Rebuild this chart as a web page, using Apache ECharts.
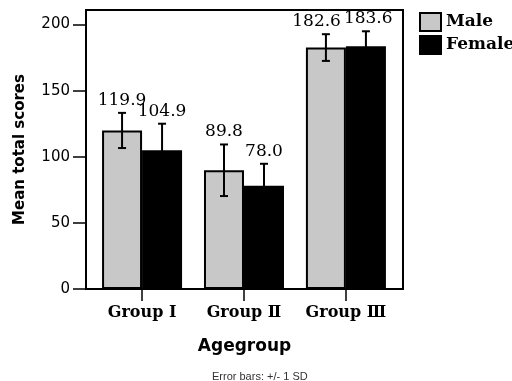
<!DOCTYPE html>
<html>
<head>
<meta charset="utf-8">
<script src="https://cdn.jsdelivr.net/npm/echarts@6/dist/echarts.min.js"></script>
<style>
  html, body { margin: 0; padding: 0; background: #fff; }
  #chart { width: 512px; height: 381px; }
</style>
</head>
<body>
<div id="chart"></div>
<script>
// Mean total scores by age group and sex, error bars = +/- 1 SD
const groups = ['Group Ⅰ', 'Group Ⅱ', 'Group Ⅲ'];
const seriesNames = ['Male', 'Female'];
const maleMean = [119.9, 89.8, 182.6];
const maleSD = [13.3, 19.5, 10.1];
const femaleMean = [104.9, 78.0, 183.6];
const femaleSD = [20.1, 16.7, 11.3];
const yTicks = [0, 50, 100, 150, 200];
const groupIndex = [0, 1, 2];

const BAR_W = 40;
const CLASH_PX = 8;
const SERIF = 'DejaVu Serif';
const SANS = 'DejaVu Sans';

const chart = echarts.init(document.getElementById('chart'), null, { renderer: 'canvas' });

function barData(means) {
  return means.map((m, i) => [groupIndex[i], m]);
}

// [group, low, high, mean, high of the neighbouring bar in the same group]
function errData(means, sds, otherMeans, otherSDs) {
  return means.map((m, i) => [groupIndex[i], m - sds[i], m + sds[i], m, otherMeans[i] + otherSDs[i]]);
}

// Whisker with caps; the mean is printed above the upper cap.
// When both labels of a group would sit on the same line they are
// pushed apart to either side of the group centre.
function errorBarSeries(name, means, sds, otherMeans, otherSDs, shift) {
  return {
    type: 'custom',
    name: name + ' SD',
    data: errData(means, sds, otherMeans, otherSDs),
    encode: { x: 0, y: [1, 2] },
    z: 5,
    silent: true,
    renderItem(params, api) {
      const i = api.value(0);
      const lo = api.coord([i, api.value(1)]);
      const hi = api.coord([i, api.value(2)]);
      const other = api.coord([i, api.value(4)]);
      const x = lo[0] + shift;
      const cap = 4;
      const st = { stroke: '#000', lineWidth: 2 };
      const clash = Math.abs(other[1] - hi[1]) < CLASH_PX;
      let tx = x, align = 'center';
      if (clash) {
        align = shift < 0 ? 'right' : 'left';
        tx = lo[0] + (shift < 0 ? -5 : -2);
      }
      return {
        type: 'group',
        children: [
          { type: 'line', shape: { x1: x, y1: lo[1], x2: x, y2: hi[1] }, style: st },
          { type: 'line', shape: { x1: x - cap, y1: lo[1], x2: x + cap, y2: lo[1] }, style: st },
          { type: 'line', shape: { x1: x - cap, y1: hi[1], x2: x + cap, y2: hi[1] }, style: st },
          {
            type: 'text',
            x: tx,
            y: hi[1] - 12.5,
            style: {
              text: api.value(3).toFixed(1),
              fill: '#000',
              font: '17px "' + SERIF + '"',
              textAlign: align,
              textVerticalAlign: 'middle'
            }
          }
        ]
      };
    }
  };
}

const option = {
  animation: false,
  backgroundColor: '#fff',
  grid: {
    left: 86, right: 109, top: 10, bottom: 92,
    show: true, borderColor: '#000', borderWidth: 2, backgroundColor: 'transparent'
  },
  legend: {
    data: seriesNames,
    orient: 'vertical',
    left: 419, top: 12, padding: 0,
    itemWidth: 21, itemHeight: 18, itemGap: 3,
    icon: 'rect',
    itemStyle: { borderColor: '#000', borderWidth: 2 },
    textStyle: { fontFamily: SERIF, fontWeight: 'bold', fontSize: 17, color: '#000' }
  },
  xAxis: {
    type: 'value',
    min: -0.55, max: 2.56,
    name: 'Agegroup',
    nameLocation: 'middle',
    nameGap: 49,
    nameTextStyle: { fontFamily: SANS, fontWeight: 'bold', fontSize: 17, color: '#000' },
    axisLine: { show: true, onZero: false, lineStyle: { color: '#000', width: 2 } },
    axisTick: { show: true, length: 12, lineStyle: { color: '#000', width: 1.5 }, customValues: groupIndex },
    axisLabel: {
      customValues: groupIndex,
      margin: 16,
      fontFamily: SERIF, fontWeight: 'bold', fontSize: 16, color: '#000',
      formatter: v => groups[Math.round(v)]
    },
    splitLine: { show: false }
  },
  yAxis: {
    type: 'value',
    min: 0, max: 211,
    name: 'Mean total scores',
    nameLocation: 'middle',
    nameGap: 58,
    nameTextStyle: { fontFamily: SANS, fontWeight: 'bold', fontSize: 15, color: '#000' },
    axisLine: { show: true, onZero: false, lineStyle: { color: '#000', width: 2 } },
    axisTick: { show: true, length: 13, lineStyle: { color: '#000', width: 1.5 }, customValues: yTicks },
    axisLabel: { customValues: yTicks, margin: 16, fontFamily: SANS, fontSize: 15, color: '#000' },
    splitLine: { show: false }
  },
  series: [
    {
      type: 'bar', name: seriesNames[0],
      data: barData(maleMean),
      barWidth: BAR_W, barGap: '0%',
      itemStyle: { color: '#c8c8c8', borderColor: '#000', borderWidth: 2 }
    },
    {
      type: 'bar', name: seriesNames[1],
      data: barData(femaleMean),
      barWidth: BAR_W, barGap: '0%',
      itemStyle: { color: '#000', borderColor: '#000', borderWidth: 2 }
    },
    errorBarSeries(seriesNames[0], maleMean, maleSD, femaleMean, femaleSD, -BAR_W / 2),
    errorBarSeries(seriesNames[1], femaleMean, femaleSD, maleMean, maleSD, BAR_W / 2)
  ],
  graphic: [
    {
      type: 'text', left: 212, top: 371,
      style: { text: 'Error bars: +/- 1 SD', font: '11px "Liberation Sans"', fill: '#333' }
    }
  ]
};

chart.setOption(option);
</script>
</body>
</html>
